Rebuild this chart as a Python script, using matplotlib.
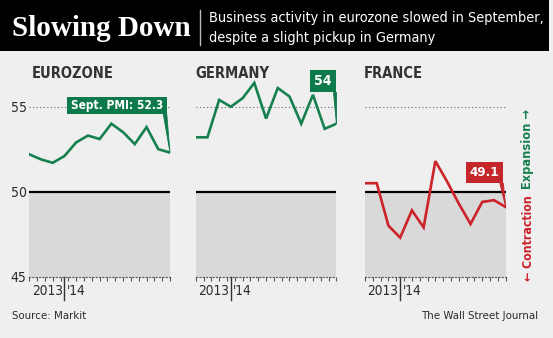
import matplotlib
matplotlib.use("Agg")
import matplotlib.pyplot as plt
from matplotlib.patches import Rectangle, Polygon

W, H = 553, 338

# composite PMI, Sept 2013 - Sept 2014
months = list(range(13))
eurozone = [52.2, 51.9, 51.7, 52.1, 52.9, 53.3, 53.1, 54.0, 53.5, 52.8, 53.8, 52.5, 52.3]
germany = [53.2, 53.2, 55.4, 55.0, 55.5, 56.4, 54.3, 56.1, 55.6, 54.0, 55.7, 53.7, 54.0]
france = [50.5, 50.5, 48.0, 47.3, 48.9, 47.9, 51.8, 50.6, 49.3, 48.1, 49.4, 49.5, 49.1]
panel_names = ["EUROZONE", "GERMANY", "FRANCE"]
y_ticks = [45, 50, 55]
year_labels = ["2013", "'14"]

COND = dict(family="DejaVu Sans", fontstretch="condensed")
BG = "#efefef"
GREEN = "#17804f"
GREEN_BOX = "#0e7a4b"
RED = "#cc2229"
RED_BOX = "#c4262a"
TEXT = "#2b2b2b"


def fx(x):
    return x / W


def fy(y):
    return 1 - y / H


fig = plt.figure(figsize=(W / 100, H / 100), dpi=100, facecolor=BG)

# header bar
fig.patches.append(Rectangle((0, fy(51)), fx(549), 51 / H, transform=fig.transFigure,
                             facecolor="black", edgecolor="none"))
fig.text(fx(12), fy(28), "Slowing Down", family="Liberation Serif", weight="bold",
         fontsize=21, color="white", va="center", ha="left")
fig.lines.append(plt.Line2D([fx(200), fx(200)], [fy(10), fy(45)], transform=fig.transFigure,
                            color="#bbbbbb", lw=1))
fig.text(fx(209), fy(18), "Business activity in eurozone slowed in September,",
         fontsize=10.4, color="white", va="center", ha="left", **COND)
fig.text(fx(209), fy(38), "despite a slight pickup in Germany",
         fontsize=10.4, color="white", va="center", ha="left", **COND)

# panel geometry in pixels
lefts = [29.3, 195.7, 365.0]
pw = 140.7
y_bot, y_top = 276.7, 64.2
ymin, ymax = 45, 57.5

series = [eurozone, germany, france]
colors = [GREEN, GREEN, RED]
box_colors = [GREEN_BOX, GREEN_BOX, RED_BOX]
labels = ["Sept. PMI: %g" % eurozone[-1], "%g" % germany[-1], "%g" % france[-1]]
label_sizes = [8.6, 10, 9.6]
# callout boxes: x0, x1, y0, y1 in data units
boxes = [(3.19, 11.72, 54.6, 55.6), (9.75, 12.0, 55.85, 57.15), (8.62, 11.8, 50.5, 51.75)]
title_x = [32, 195, 364]

for i, vals in enumerate(series):
    ax = fig.add_axes([fx(lefts[i]), fy(y_bot), pw / W, (y_bot - y_top) / H])
    ax.set_facecolor("none")
    ax.set_xlim(0, 12)
    ax.set_ylim(ymin, ymax)
    for s in ["top", "right", "left"]:
        ax.spines[s].set_visible(False)
    ax.spines["bottom"].set_linestyle((0, (1, 2)))
    ax.spines["bottom"].set_color("#555555")
    ax.spines["bottom"].set_linewidth(0.8)

    ax.fill_between([0, 12], 45, 50, color="#d9d9d9", lw=0, zorder=0)
    ax.axhline(50, color="black", lw=1.6, zorder=2)
    ax.hlines(55, 0, 12, colors="#666666", linestyles=(0, (1, 2.2)), lw=0.8, zorder=1)

    ax.plot(months, vals, color=colors[i], lw=1.9, zorder=4, solid_joinstyle="miter")

    ax.set_xticks([k * 12 / 18 for k in range(19)])
    ax.tick_params(axis="x", length=3, width=0.8, color="#555555", labelbottom=False)
    if i == 0:
        ax.set_yticks(y_ticks)
        ax.set_yticklabels([str(v) for v in y_ticks], fontsize=10, color=TEXT, **COND)
        ax.tick_params(axis="y", length=0, pad=2)
    else:
        ax.set_yticks([])

    # year divider and labels
    ax.plot([3, 3], [45, 45 - 23 / 17], color="#333333", lw=1, clip_on=False)
    ax.text(2.85, 45 - 14.5 / 17, year_labels[0], fontsize=9.8, color=TEXT,
            ha="right", va="center", **COND)
    ax.text(3.2, 45 - 14.5 / 17, year_labels[1], fontsize=9.8, color=TEXT,
            ha="left", va="center", **COND)

    # callout with pointer to the latest reading
    x0, x1, y0, y1 = boxes[i]
    ax.add_patch(Rectangle((x0, y0), x1 - x0, y1 - y0, facecolor=box_colors[i],
                           edgecolor="none", clip_on=False, zorder=5))
    ax.add_patch(Polygon([(x1 - 0.3, y0), (x1, y0), (12, vals[-1])], closed=True,
                         facecolor=box_colors[i], edgecolor=box_colors[i], lw=0.6,
                         clip_on=False, zorder=5))
    ax.text((x0 + x1) / 2, (y0 + y1) / 2, labels[i], weight="bold",
            fontsize=label_sizes[i], color="white", ha="center", va="center", zorder=6, **COND)

    fig.text(fx(title_x[i]), fy(73), panel_names[i], weight="bold",
             fontsize=10.5, color="#333333", ha="left", va="center", **COND)

# expansion / contraction key
fig.text(fx(528), fy(189), "Expansion \u2192", weight="bold", fontsize=9.2,
         color=GREEN, rotation=90, ha="center", va="bottom", **COND)
fig.text(fx(528), fy(195), "\u2190 Contraction", weight="bold", fontsize=8.8,
         color=RED, rotation=90, ha="center", va="top", **COND)

fig.text(fx(12), fy(316), "Source: Markit", fontsize=8.2, color=TEXT,
         ha="left", va="center", **COND)
fig.text(fx(538), fy(316), "The Wall Street Journal", fontsize=8.2, color=TEXT,
         ha="right", va="center", **COND)

fig.savefig("out.png", dpi=100, facecolor=BG)
